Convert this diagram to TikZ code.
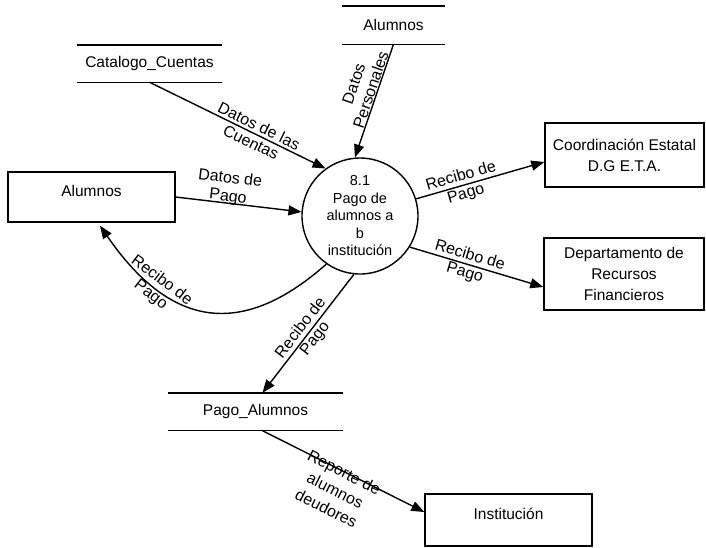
\documentclass[tikz,border=0pt]{standalone}
\usepackage{fontspec}
\setmainfont{Liberation Sans}
\usetikzlibrary{arrows.meta,calc}
\begin{document}
\begin{tikzpicture}[x=1pt,y=-1pt,
  boxfont/.style={font=\fontsize{15.5}{21}\selectfont},
  flow/.style={line width=1.4pt,-{Triangle[length=13pt,width=10pt]}},
  lbl/.style={sloped,align=center,inner sep=1pt,font=\fontsize{16}{18}\selectfont},
  store/.style={boxfont,inner sep=0pt,minimum height=37pt},
  storeline/.style={line width=1.4pt},
  ent/.style={boxfont,draw,line width=1.4pt,inner sep=0pt,align=center},
  proc/.style={circle,draw,line width=1.4pt,minimum size=116pt,inner sep=0pt,align=center,
    font=\fontsize{14.5}{17.5}\selectfont}]
\useasboundingbox (0,0) rectangle (706,547);

% data stores
\node[store,minimum width=145pt] (cat) at (149.5,63.5) {Catalogo\_Cuentas};
\draw[storeline] (cat.north west) -- (cat.north east) (cat.south west) -- (cat.south east);
\node[store,minimum width=103pt,minimum height=38pt] (als) at (393.5,25) {Alumnos};
\draw[storeline] (als.north west) -- (als.north east) (als.south west) -- (als.south east);
\node[store,minimum width=175pt] (pag) at (255.5,411.5) {Pago\_Alumnos};
\draw[storeline] (pag.north west) -- (pag.north east) (pag.south west) -- (pag.south east);

% process
\node[proc] (prc) at (360,216) {8.1\\Pago de\\alumnos a\\b\\institución};

% external entities
\node[ent,minimum width=167pt,minimum height=50pt,text depth=12pt] (alb) at (91.5,197) {Alumnos};
\node[ent,minimum width=159pt,minimum height=64pt] (crd) at (624.5,155) {Coordinación Estatal\\D.G E.T.A.};
\node[ent,minimum width=160pt,minimum height=72pt] (dep) at (624,274) {Departamento de\\Recursos\\Financieros};
\node[ent,minimum width=167pt,minimum height=52pt,text depth=13pt] (ins) at (508.5,520) {Institución};

% flows
\draw[flow] (cat.south) -- (prc.126.5)
  node[lbl,pos=0.6] {Datos de las\\Cuentas};
\draw[flow] (als.south) -- (prc.95)
  node[lbl,pos=0.42,anchor=south,inner sep=0.5pt] {Datos\\Personales};
\draw[flow] (alb.east) -- (prc.176)
  node[lbl,pos=0.41,above=-3pt] {Datos de\\Pago};
\draw[flow] (prc.17.5) -- ($(crd.west)+(0,7)$)
  node[lbl,pos=0.37] {Recibo de\\Pago};
\draw[flow] (prc.-32) -- ($(dep.west)+(0,13)$)
  node[lbl,pos=0.43] {Recibo de\\Pago};
\draw[flow] (prc.-96.5) -- ($(pag.north)+(7,0)$)
  node[lbl,pos=0.5] {Recibo de\\Pago};
\draw[flow] (prc.-125.5) .. controls (235,345) and (165,320) .. ($(alb.south)+(8.5,3)$)
  node[lbl,pos=0.72] {Recibo de\\Pago};
\draw[flow] ($(pag.south)+(6,0)$) -- ($(ins.west)+(0,-8)$)
  node[lbl,pos=0.51,below=-7pt] {Reporte de\\[2pt]alumnos\\[2pt]deudores};
\end{tikzpicture}
\end{document}
